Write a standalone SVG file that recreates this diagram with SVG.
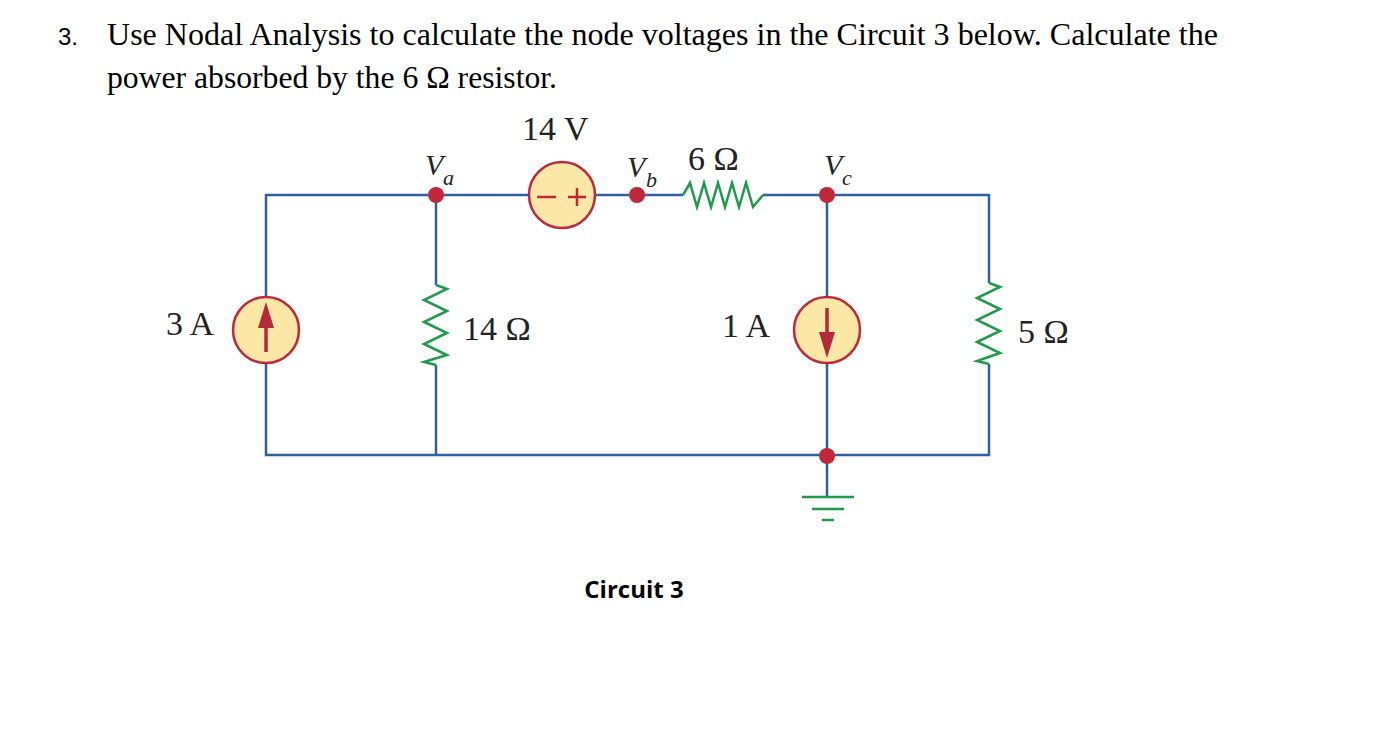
<svg xmlns="http://www.w3.org/2000/svg" width="1382" height="743" viewBox="0 0 1382 743">
<style>
.w{stroke:#2f5f9e;stroke-width:2.5;fill:none}
.r{stroke:#1f9a4a;stroke-width:2.5;fill:none;stroke-linejoin:miter}
.src{fill:#fbe7a6;stroke:#c0283a;stroke-width:2.5}
.dot{fill:#c0283a}
.t{font-family:"Liberation Serif",serif;font-size:34px;fill:#222}
.q{font-family:"Liberation Serif",serif;font-size:31px;fill:#000}
.i{font-family:"Liberation Serif",serif;font-size:30px;font-style:italic;fill:#222}
.s{font-family:"Liberation Serif",serif;font-size:22px;font-style:italic;fill:#222}
</style>
<rect width="1382" height="743" fill="#fff"/>
<text x="58" y="45" font-family="Liberation Sans,sans-serif" font-size="24" fill="#000">3.</text>
<text x="107" y="45" class="q" textLength="1111" lengthAdjust="spacingAndGlyphs">Use Nodal Analysis to calculate the node voltages in the Circuit 3 below. Calculate the</text>
<text x="107" y="88" class="q" textLength="450" lengthAdjust="spacingAndGlyphs">power absorbed by the 6 Ω resistor.</text>
<g id="wires">
<path class="w" d="M266,297 V195 H529 M595,195 H683 M763,195 H989 V283 M989,364 V455 H266 V363 M436,195 V285 M436,365 V455 M827,195 V297 M827,363 V496"/>
</g>
<g id="R6"><path class="r" d="M683,195 L690,183 L697,207 L704,183 L711,207 L718,183 L725,207 L732,183 L739,207 L746,183 L753,207 L763,195"/><text x="688" y="170" class="t">6 Ω</text></g>
<g id="R14"><path class="r" d="M436,285 L447,289 L424,300 L447,311 L424,322 L447,333 L424,344 L447,355 L424,362 L436,365"/><text x="463" y="340" class="t">14 Ω</text></g>
<g id="R5"><path class="r" d="M989,283 L1000,287 L977,298 L1000,309 L977,320 L1000,331 L977,342 L1000,353 L977,361 L989,364"/><text x="1018" y="343" class="t">5 Ω</text></g>
<g id="V14"><circle class="src" cx="562" cy="195" r="33"/><path d="M537,197 H556 M568,197 H586 M577,188 V206" stroke="#c0283a" stroke-width="2.5"/><text x="522" y="140" class="t">14 V</text></g>
<g id="I3"><circle class="src" cx="266" cy="330" r="33"/><path d="M266,352 V325" stroke="#b52a3a" stroke-width="3.5"/><path d="M258,328 L266,302 L274,328 Z" fill="#b52a3a"/><text x="166" y="335" class="t">3 A</text></g>
<g id="I1"><circle class="src" cx="827" cy="330" r="33"/><path d="M827,308 V335" stroke="#b52a3a" stroke-width="3.5"/><path d="M819,332 L827,358 L835,332 Z" fill="#b52a3a"/><text x="722" y="337" class="t">1 A</text></g>
<g id="Va"><circle class="dot" cx="436" cy="195" r="8"/><text x="425" y="175" class="i">V</text><text x="443" y="185" class="s">a</text></g>
<g id="Vb"><circle class="dot" cx="637" cy="195" r="8"/><text x="627" y="177" class="i">V</text><text x="646" y="187" class="s">b</text></g>
<g id="Vc"><circle class="dot" cx="827" cy="195" r="8"/><text x="824" y="175" class="i">V</text><text x="842" y="185" class="s">c</text></g>
<g id="gnd"><circle class="dot" cx="827" cy="456" r="8"/><path d="M802,497 H854 M812,509 H844 M822,520 H834" stroke="#1f9a4a" stroke-width="2.5"/></g>
<text x="634" y="598" text-anchor="middle" font-family="Open Sans,sans-serif" font-weight="bold" font-size="24" fill="#000">Circuit 3</text>
</svg>
